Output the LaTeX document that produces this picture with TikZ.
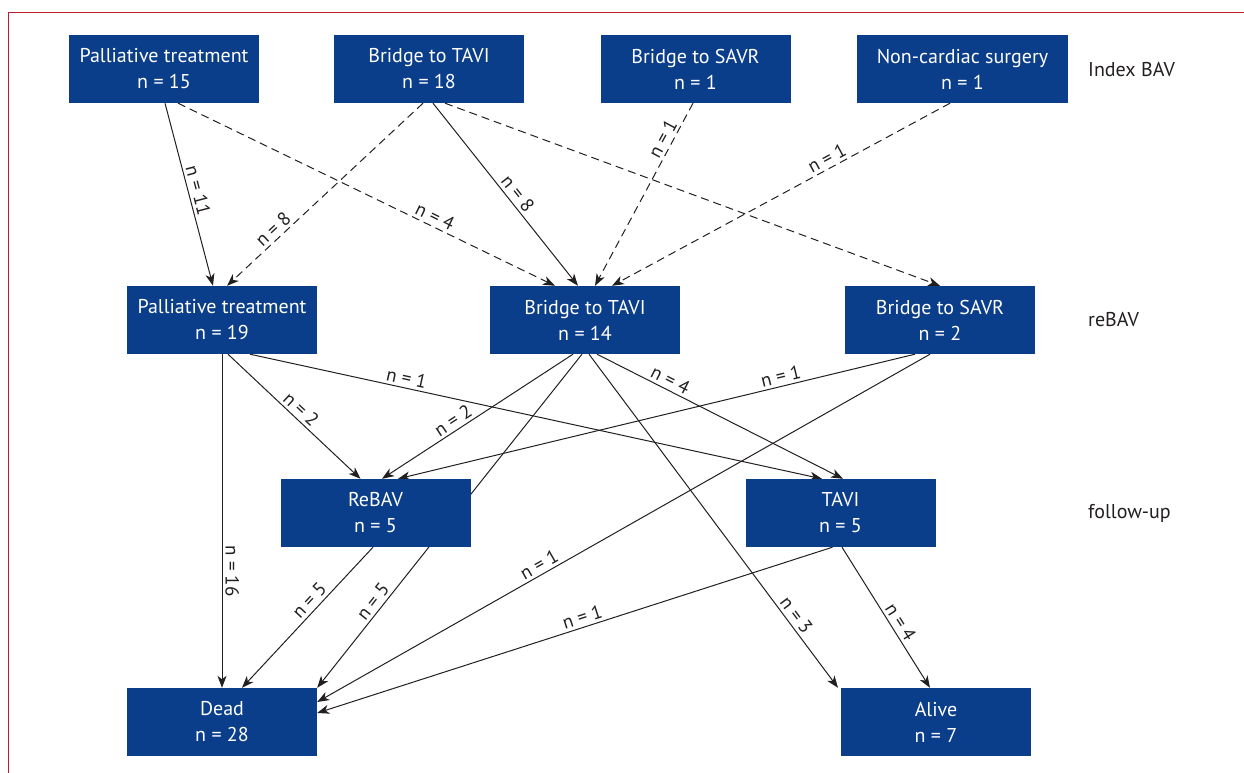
\documentclass[tikz,border=0pt]{standalone}
\usepackage{fontspec}
\setmainfont{PT Sans}
\usetikzlibrary{arrows.meta,calc,backgrounds}
\definecolor{boxblue}{RGB}{10,61,138}
\definecolor{framered}{RGB}{190,30,45}
\definecolor{txtgray}{RGB}{35,31,32}
\begin{document}
\begin{tikzpicture}[x=1pt,y=-1pt,
  flowbox/.style={fill=boxblue, text=white, minimum width=190pt, minimum height=68pt, inner sep=0pt, align=center, font=\fontsize{20}{26}\selectfont},
  edge/.style={draw=txtgray, line width=1pt, -{Stealth[length=12pt,width=9pt,inset=3.5pt]}},
  dashededge/.style={edge, dash pattern=on 8pt off 5pt},
  lbl/.style={font=\fontsize{19}{19}\selectfont, text=txtgray, sloped, above, inner sep=3pt},
  rowlbl/.style={anchor=west, text=txtgray, inner sep=0pt, font=\fontsize{20}{24}\selectfont}
]
\useasboundingbox (0,0) rectangle (1244,773);
\draw[framered, line width=1.5pt] (8.5,773) -- (8.5,12.5) -- (1244,12.5);

% row 1
\node[flowbox] (pt15) at (164,69) {Palliative treatment\\n = 15};
\node[flowbox] (bt18) at (429,69) {Bridge to TAVI\\n = 18};
\node[flowbox] (bs1) at (695.5,69) {Bridge to SAVR\\n = 1};
\node[flowbox, minimum width=211pt] (nc) at (962.5,69) {Non-cardiac surgery\\n = 1};
% row 2
\node[flowbox] (pt19) at (222,320) {Palliative treatment\\n = 19};
\node[flowbox] (bt14) at (585,320) {Bridge to TAVI\\n = 14};
\node[flowbox] (bs2) at (940,320) {Bridge to SAVR\\n = 2};
% row 3
\node[flowbox] (rebav) at (375.5,513) {ReBAV\\n = 5};
\node[flowbox] (tavi) at (840.5,513) {TAVI\\n = 5};
% row 4
\node[flowbox] (dead) at (222,722) {Dead\\n = 28};
\node[flowbox] (alive) at (936,722) {Alive\\n = 7};

% row labels
\node[rowlbl] (lidx) at (1088,70) {Index BAV};
\node[rowlbl] (lre) at (1088,320) {reBAV};
\node[rowlbl] (lfu) at (1088,513) {follow-up};

\begin{scope}[on background layer]
% index -> reBAV
\draw[edge] ($(pt15.south)+(1,0)$) -- node[lbl,pos=0.49]{n = 11} ($(pt19.north)+(-9,0)$);
\draw[dashededge] ($(pt15.south)+(14,0)$) -- node[lbl,pos=0.67]{n = 4} ($(bt14.north)+(-30,0)$);
\draw[dashededge] ($(bt18.south)+(-6,0)$) -- node[lbl,pos=0.73]{n = 8} ($(pt19.north)+(5,0)$);
\draw[edge] ($(bt18.south)+(4,0)$) -- node[lbl,pos=0.53]{n = 8} ($(bt14.north)+(-7,0)$);
\draw[dashededge] ($(bt18.south)+(16,0)$) -- (bs2.north);
\draw[dashededge] ($(bs1.south)+(-2.5,0)$) -- node[lbl,pos=0.22]{n = 1} ($(bt14.north)+(10,0)$);
\draw[dashededge] ($(nc.south)+(-12.5,0)$) -- node[lbl,pos=0.35]{n = 1} ($(bt14.north)+(27,0)$);
% reBAV -> follow-up / outcome
\draw[edge] (pt19.south) -- node[lbl,pos=0.65]{n = 16} (dead.north);
\draw[edge] ($(pt19.south)+(6,0)$) -- node[lbl,pos=0.5]{n = 2} ($(rebav.north)+(-15,0)$);
\draw[edge] ($(pt19.south)+(28,0)$) -- node[lbl,pos=0.27]{n = 1} ($(tavi.north)+(-18.5,0)$);
\draw[edge] ($(bt14.south)+(-12,0)$) -- node[lbl,pos=0.6]{n = 2} ($(rebav.north)+(6.5,0)$);
\draw[edge] ($(bt14.south)+(-3,0)$) -- node[lbl,pos=0.76]{n = 5} (dead.north east);
\draw[edge] ($(bt14.south)+(12,0)$) -- node[lbl,pos=0.28]{n = 4} ($(tavi.north)+(2.5,0)$);
\draw[edge] ($(bt14.south)+(4,0)$) -- node[lbl,pos=0.8]{n = 3} ($(alive.north)+(-98,0)$);
\draw[edge] ($(bs2.south)+(-25,0)$) -- node[lbl,pos=0.255]{n = 1} ($(rebav.north)+(22.5,0)$);
\draw[edge] ($(bs2.south)+(-10,0)$) -- node[lbl,pos=0.63]{n = 1} ($(dead.east)+(0,-20)$);
\draw[edge] ($(rebav.south)+(-2.5,0)$) -- node[lbl,pos=0.43]{n = 5} ($(dead.north)+(20,0)$);
\draw[edge] ($(tavi.south)+(-8,0)$) -- node[lbl,pos=0.48]{n = 1} ($(dead.east)+(0,-9)$);
\draw[edge] ($(tavi.south)+(1.5,0)$) -- node[lbl,pos=0.57]{n = 4} ($(alive.north)+(-6,0)$);
\end{scope}
\end{tikzpicture}
\end{document}
